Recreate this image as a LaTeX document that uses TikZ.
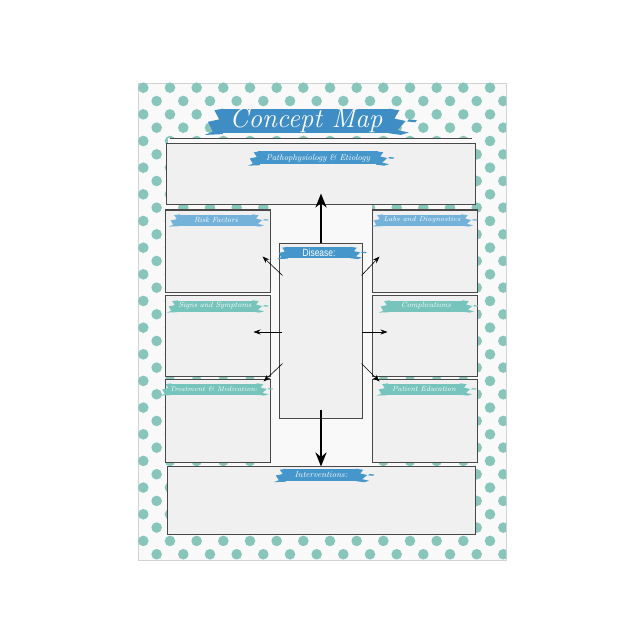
\documentclass[tikz,border=0pt]{standalone}
\usepackage{fontspec}
\newfontfamily\condfont[FakeStretch=0.8]{Liberation Sans}
\usetikzlibrary{arrows.meta}

\definecolor{dotteal}{HTML}{88C6BC}
\definecolor{padwhite}{HTML}{F9F9F9}
\definecolor{padedge}{HTML}{D2D2D2}
\definecolor{boxfill}{HTML}{F0F0F0}
\definecolor{boxline}{HTML}{484848}
\definecolor{bluedark}{HTML}{3E8DC4}
\definecolor{bluemid}{HTML}{4596CB}
\definecolor{bluelight}{HTML}{74B2DA}
\definecolor{tealband}{HTML}{76C4BB}

% ragged brush ends round a banner node: #1 node, #2 colour, #3 size
\newcommand{\brushends}[3]{%
  \fill[#2] ([xshift=2pt]#1.north west) -- ([xshift=-4*#3pt, yshift=-1*#3pt]#1.north west)
    -- ([xshift=-1*#3pt, yshift=1*#3pt]#1.west) -- ([xshift=-8*#3pt, yshift=-0.5*#3pt]#1.west)
    -- ([xshift=-5*#3pt, yshift=1*#3pt]#1.south west) -- ([xshift=-10*#3pt, yshift=-1*#3pt]#1.south west)
    -- ([xshift=2pt, yshift=-0.5*#3pt]#1.south west) -- cycle;
  \fill[#2] ([xshift=-2pt]#1.north east) -- ([xshift=5*#3pt, yshift=-1*#3pt]#1.north east)
    -- ([xshift=2*#3pt, yshift=1.5*#3pt]#1.east) -- ([xshift=9*#3pt, yshift=0pt]#1.east)
    -- ([xshift=4*#3pt, yshift=2*#3pt]#1.south east) -- ([xshift=11*#3pt, yshift=0.5*#3pt]#1.south east)
    -- ([xshift=6*#3pt, yshift=-1*#3pt]#1.south east) -- ([xshift=-2pt]#1.south east) -- cycle;
  \fill[#2] ([xshift=11*#3pt, yshift=1*#3pt]#1.east) -- ([xshift=16*#3pt, yshift=0.5*#3pt]#1.east)
    -- ([xshift=15*#3pt, yshift=-0.8*#3pt]#1.east) -- ([xshift=10*#3pt, yshift=-0.3*#3pt]#1.east) -- cycle;
}

\begin{document}
\begin{tikzpicture}[x=1pt,y=-1pt]

\tikzset{box/.style = {draw=boxline, fill=boxfill, line width=1pt, inner sep=0pt}}
\tikzset{banner/.style = {fill=#1, text=white, inner sep=0pt, font=\fontsize{7.5}{8}\selectfont\itshape}}
\tikzset{dot/.style = {fill=dotteal}}
\tikzset{bigarrow/.style = {-{Stealth[length=14pt,width=11pt]}, line width=2.6pt}}
\tikzset{smallarrow/.style = {-{Stealth[length=7pt,width=5pt]}, line width=0.6pt}}

\useasboundingbox (0,0) rectangle (644,644);
\fill[white] (0,0) rectangle (644,644);
%pad
\filldraw[fill=padwhite, draw=padedge, line width=0.8pt] (138,83) rectangle (506,560);
%dots
\begin{scope}
\clip (138,83) rectangle (506,560);
\foreach \r in {0,...,36} {
  \foreach \k in {-1,...,14} {
    \fill[dot] ({143.3+13.33*mod(\r,2)+26.67*\k},{87.7+13.33*\r}) circle[radius=5.3pt];
  }
}
\end{scope}
%white strips
\fill[padwhite] (168,138) rectangle (473,145);
\fill[padwhite] (270,205) rectangle (372,466);
\draw[boxline, line width=0.7pt] (170,138) -- (472,138);

%boxes
\node[box, minimum width=309, minimum height=61] (patho) at (321,174.5) {};
\node[box, minimum width=105, minimum height=82] (risk) at (217.5,251) {};
\node[box, minimum width=105, minimum height=81] (signs) at (217.5,335.5) {};
\node[box, minimum width=105, minimum height=83] (treat) at (217.5,420.5) {};
\node[box, minimum width=105, minimum height=82] (labs) at (424.5,251) {};
\node[box, minimum width=105, minimum height=81] (compl) at (424.5,335.5) {};
\node[box, minimum width=105, minimum height=83] (patient) at (424.5,420.5) {};
\node[box, minimum width=83, minimum height=175] (disease) at (321,330.5) {};
\node[box, minimum width=308, minimum height=68] (interv) at (321,500) {};

%banners
\node[banner=bluedark, minimum width=170, minimum height=24, font=\fontsize{27}{29}\selectfont\itshape] (title) at (306,121) {Concept Map};
\brushends{title}{bluedark}{1.6}
\node[banner=bluemid, minimum width=120, minimum height=13, font=\fontsize{8.5}{9}\selectfont\itshape] (pathoband) at (318,158) {Pathophysiology \& Etiology};
\brushends{pathoband}{bluemid}{1}
\node[banner=bluelight, minimum width=76, minimum height=11] (riskband) at (216,220) {Risk Factors};
\brushends{riskband}{bluelight}{0.9}
\node[banner=bluelight, minimum width=82, minimum height=11, font=\fontsize{7}{8}\selectfont\itshape] (labsband) at (422,220) {Labs and Diagnostics};
\brushends{labsband}{bluelight}{0.9}
\node[banner=bluemid, minimum width=66, minimum height=11, font=\condfont\fontsize{10.5}{11}\selectfont] (diseaseband) at (319,252.5) {Disease:};
\brushends{diseaseband}{bluemid}{0.9}
\node[banner=tealband, minimum width=78, minimum height=11] (signsband) at (215,306) {Signs and Symptoms};
\brushends{signsband}{tealband}{0.9}
\node[banner=tealband, minimum width=76, minimum height=11] (complband) at (426,306) {Complications};
\brushends{complband}{tealband}{0.9}
\node[banner=tealband, minimum width=84, minimum height=11, font=\fontsize{6.8}{8}\selectfont\itshape] (treatband) at (214,389) {Treatment \& Medications};
\brushends{treatband}{tealband}{0.9}
\node[banner=tealband, minimum width=76, minimum height=11] (patientband) at (424,389) {Patient Education};
\brushends{patientband}{tealband}{0.9}
\node[banner=bluemid, minimum width=74, minimum height=12, font=\fontsize{8.5}{9}\selectfont\itshape] (intervband) at (321,475) {Interventions:};
\brushends{intervband}{bluemid}{1}

%arrows
\draw[bigarrow] (disease.north) -- ([yshift=12pt]patho.south);
\draw[bigarrow] ([yshift=9pt]disease.south) -- ([yshift=-1pt]interv.north);
\draw[smallarrow] ([xshift=3.5pt,yshift=-33pt]disease.north west) -- ([xshift=-8pt,yshift=36pt]risk.south east);
\draw[smallarrow] ([xshift=-1.5pt,yshift=-33pt]disease.north east) -- ([xshift=8pt,yshift=36pt]labs.south west);
\draw[smallarrow] ([xshift=3pt,yshift=-1.5pt]disease.west) -- ([xshift=-17pt,yshift=3.5pt]signs.east);
\draw[smallarrow] ([xshift=-1.5pt,yshift=-1.5pt]disease.east) -- ([xshift=16pt,yshift=3.5pt]compl.west);
\draw[smallarrow] ([xshift=3.5pt,yshift=55pt]disease.south west) -- ([xshift=-7pt,yshift=-3pt]treat.north east);
\draw[smallarrow] ([xshift=-1.5pt,yshift=55pt]disease.south east) -- ([xshift=8pt,yshift=-3pt]patient.north west);

\end{tikzpicture}
\end{document}
